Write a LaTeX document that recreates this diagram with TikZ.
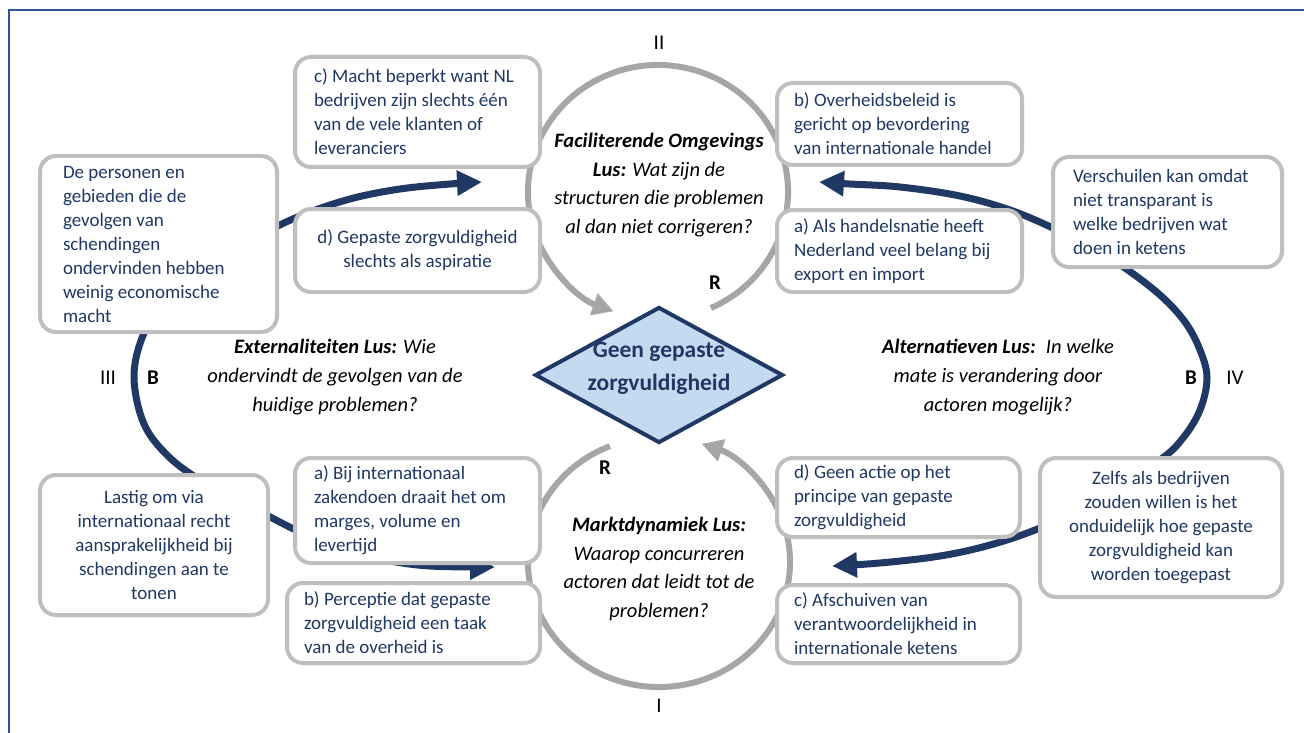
\documentclass[tikz,border=0pt]{standalone}
\usepackage{fontspec}
\setmainfont{Carlito}
\usetikzlibrary{arrows.meta,shapes.geometric,calc}
\definecolor{navy}{HTML}{1F3864}
\definecolor{boxgray}{HTML}{BFBFBF}
\definecolor{arcgray}{HTML}{A6A6A6}
\definecolor{dfill}{HTML}{C5D9F1}
\definecolor{framec}{HTML}{2F5597}
\begin{document}
\begin{tikzpicture}[x=1pt,y=-1pt,
  card/.style={draw=boxgray, line width=4pt, rounded corners=16pt, fill=white,
    inner xsep=0pt, inner ysep=0pt, text=navy, font=\fontsize{19}{24}\selectfont, align=flush left},
  ccard/.style={card, align=flush center},
  darkloop/.style={draw=navy, line width=7pt,
    {Triangle[length=25pt,width=24pt]}-{Triangle[length=25pt,width=24pt]}},
  grayarc/.style={draw=arcgray, line width=6pt, -{Triangle[length=21pt,width=22pt]}},
  lbl/.style={font=\itshape\fontsize{20.5}{28.7}\selectfont, align=center, text=black},
  num/.style={font=\fontsize{21}{25}\selectfont, text=black},
  pol/.style={font=\bfseries\fontsize{21}{25}\selectfont, text=black}
]
\useasboundingbox (0,0) rectangle (1304,733);
\fill[white] (0,0) rectangle (1304,733);
\draw[framec, line width=2pt] (9,10) rectangle (1330,760);

% loop centres and tips
\coordinate (topc) at (658,192);
\coordinate (botc) at (659,562);
\coordinate (ltop) at (482,182);
\coordinate (lbot) at (495,567);
\coordinate (rtop) at (819,182);
\coordinate (rbot) at (832,566);

% dark balancing loops
\draw[darkloop] plot[smooth, tension=0.6] coordinates {(ltop) (450,184) (400,189) (350,199) (300,216)
  (255,238) (200,272) (160,310) (142,338) (134,378) (144,424) (168,456) (200,480) (240,502)
  (270,517) (300,532) (340,549) (385,560) (430,566) (lbot)};
\draw[darkloop] plot[smooth, tension=0.6] coordinates {(rtop) (850,184) (900,187) (960,196) (1010,210)
  (1053,228) (1092,247) (1125,268) (1160,295) (1185,322) (1200,350) (1207,378) (1200,410)
  (1183,438) (1160,460) (1100,500) (1040,528) (990,545) (940,556) (880,563) (rbot)};

% gray reinforcing loops
\draw[grayarc] ($(topc)+(66:130 and 127)$) arc[start angle=66, end angle=-250, x radius=130, y radius=127];
\draw[grayarc] ($(botc)+(-112:131 and 125)$) arc[start angle=-112, end angle=-431, x radius=131, y radius=125];

% boxes
\node[card, minimum width=245pt, minimum height=110pt, text width=207pt] (cMacht) at (417.5,112)
  {c) Macht beperkt want NL\\bedrijven zijn slechts één\\van de vele klanten of\\leveranciers};
\node[card, minimum width=237pt, minimum height=176pt, text width=191pt] (dePers) at (158.5,244)
  {De personen en\\gebieden die de\\gevolgen van\\schendingen\\ondervinden hebben\\weinig economische\\macht};
\node[ccard, minimum width=245pt, minimum height=83pt, text width=215pt] (dGep) at (417.5,250.5)
  {d) Gepaste zorgvuldigheid\\slechts als aspiratie};
\node[card, minimum width=245pt, minimum height=82pt, text width=211pt] (bOver) at (899.5,124)
  {b) Overheidsbeleid is\\gericht op bevordering\\van internationale handel};
\node[card, minimum width=245pt, minimum height=82pt, text width=211pt] (aAls) at (899.5,251)
  {a) Als handelsnatie heeft\\Nederland veel belang bij\\export en import};
\node[card, minimum width=229pt, minimum height=110pt, text width=189pt] (versch) at (1167.5,212)
  {Verschuilen kan omdat\\niet transparant is\\welke bedrijven wat\\doen in ketens};
\node[ccard, minimum width=242pt, minimum height=139pt, text width=210pt] (zelfs) at (1161,527.5)
  {Zelfs als bedrijven\\zouden willen is het\\onduidelijk hoe gepaste\\zorgvuldigheid kan\\worden toegepast};
\node[card, minimum width=243pt, minimum height=79pt, text width=209pt] (dGeen) at (898.5,497.5)
  {d) Geen actie op het\\principe van gepaste\\zorgvuldigheid};
\node[card, minimum width=243pt, minimum height=78pt, text width=209pt] (cAfsch) at (898.5,624)
  {c) Afschuiven van\\verantwoordelijkheid in\\internationale ketens};
\node[card, minimum width=245pt, minimum height=105pt, text width=207pt] (aBij) at (417.5,510.5)
  {a) Bij internationaal\\zakendoen draait het om\\marges, volume en\\levertijd};
\node[card, minimum width=253pt, minimum height=80pt, text width=219pt] (bPerc) at (413.5,623)
  {b) Perceptie dat gepaste\\zorgvuldigheid een taak\\van de overheid is};
\node[ccard, minimum width=228pt, minimum height=140pt, text width=200pt] (lastig) at (154,545)
  {Lastig om via\\internationaal recht\\aansprakelijkheid bij\\schendingen aan te\\tonen};

% central problem
\node[diamond, draw=navy, line width=4pt, fill=dfill, minimum width=248pt, minimum height=136pt, inner sep=0pt] (core) at (659,375) {};
\node[font=\bfseries\fontsize{23.5}{33}\selectfont, text=navy, align=center] (coretxt) at (659,368.5)
  {Geen gepaste\\zorgvuldigheid};

% loop labels
\node[lbl] (facil) at (659,185) {\textbf{Faciliterende Omgevings}\\\textbf{Lus:} Wat zijn de\\structuren die problemen\\al dan niet corrigeren?};
\node[lbl] (markt) at (659,569) {\textbf{Marktdynamiek Lus:}\\Waarop concurreren\\actoren dat leidt tot de\\problemen?};
\node[lbl] (extern) at (335,377) {\textbf{Externaliteiten Lus:} Wie\\ondervindt de gevolgen van de\\huidige problemen?};
\node[lbl] (altern) at (998,377) {\textbf{Alternatieven Lus:}\enspace In welke\\mate is verandering door\\actoren mogelijk?};

\node[num] (nII) at (659,43) {II};
\node[num] (nI) at (659,706) {I};
\node[num] (nIII) at (108,378) {III};
\node[num] (nIV) at (1235,378) {IV};
\node[pol] (pB1) at (153,378) {B};
\node[pol] (pB2) at (1191,378) {B};
\node[pol] (pR1) at (715,283) {R};
\node[pol] (pR2) at (605,468) {R};
\end{tikzpicture}
\end{document}
